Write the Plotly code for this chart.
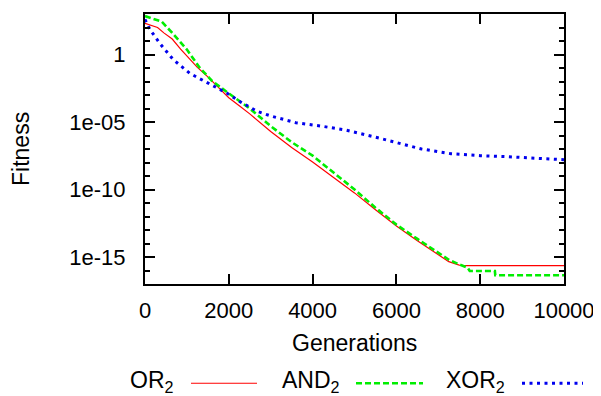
import plotly.graph_objects as go

# Generations / fitness values (fitness on log scale)
or_gen = [0, 150, 300, 450, 650, 850, 1050, 1250, 1500, 1750, 2000, 2250, 2500, 3000,
          3500, 4000, 4500, 5000, 5500, 6000, 6500, 7000, 7250, 7500, 7600, 10000]
or_fit = [2.0e2, 1.4e2, 1.0e2, 4.0e1, 1.4e1, 2.5e0, 5.0e-1, 1.1e-1, 2.2e-2, 4.0e-3, 6.3e-4,
          1.6e-4, 4.0e-5, 2.0e-6, 1.3e-7, 1.1e-8, 7.9e-10, 5.6e-11, 3.2e-12, 2.0e-13,
          1.6e-14, 1.4e-15, 4.5e-16, 2.5e-16, 2.3e-16, 2.3e-16]

and_gen = [0, 150, 400, 650, 1000, 1300, 1600, 2000, 2500, 3000, 3500, 4000,
           4500, 5000, 5500, 6000, 6500, 7000, 7250, 7500, 7700, 7750, 8350, 8360, 10000]
and_fit = [7.0e2, 5.0e2, 2.7e2, 4.0e1, 2.3e0, 1.1e-1, 1.1e-2, 1.3e-3, 1.0e-4, 5.0e-6,
           3.2e-7, 3.2e-8, 1.8e-9, 1.0e-10, 4.5e-12, 2.5e-13, 2.2e-14, 2.0e-15,
           6.3e-16, 2.8e-16, 1.6e-16, 9.3e-17, 9.3e-17, 4.5e-17, 4.5e-17]

xor_gen = [0, 120, 360, 670, 1070, 1480, 1950, 2270, 2670, 3000, 3600, 4200, 4800, 5600,
           6100, 6600, 7300, 8000, 8640, 9300, 10000]
xor_fit = [4.0e2, 7.0e1, 6.3e0, 4.3e-1, 4.0e-2, 7.9e-3, 1.4e-3, 3.2e-4, 6.3e-5, 2.8e-5,
           8.9e-6, 5.0e-6, 2.5e-6, 6.3e-7, 2.5e-7, 1.0e-7, 4.5e-8, 3.2e-8, 2.7e-8, 2.2e-8, 1.6e-8]

x_ticks = [0, 2000, 4000, 6000, 8000, 10000]
x_ticktext = ["0", "2000", "4000", "6000", "8000", "10000"]
y_ticks = [1, 1e-5, 1e-10, 1e-15]
y_ticktext = ["1", "1e-05", "1e-10", "1e-15"]
y_minor = [10.0 ** e for e in range(-17, 4)]

series = [
    ("OR<sub>2</sub>", or_gen, or_fit, "#ff0000", 1.2, "solid"),
    ("AND<sub>2</sub>", and_gen, and_fit, "#00ee00", 2.6, "6px,3px"),
    ("XOR<sub>2</sub>", xor_gen, xor_fit, "#0000ee", 3, "3px,4.5px"),
]

FONT = "Liberation Sans, Arial, sans-serif"
FS = 22
FT = 23
# page has an 8px body margin: the figure is shrunk so that the page matches the reference
OFF = 8
fig = go.Figure()
for name, gx, gy, col, w, dash in series:
    fig.add_trace(go.Scatter(x=gx, y=gy, mode="lines", name=name,
                             line=dict(color=col, width=w, dash=dash),
                             showlegend=False))

# positions below are in page pixels of the reference; plot area 145..564 x 12..284
W = 419.0
H = 272.0
def px(x):
    return (x - 145) / W
def py(y):
    return (284 - y) / H

legend_items = [(176, 191, 257), (342, 356, 423), (507, 522, 583)]
for (name, gx, gy, col, w, dash), (tx, l0, l1) in zip(series, legend_items):
    fig.add_annotation(x=px(tx), y=py(382), xref="paper", yref="paper", text=name,
                       showarrow=False, xanchor="right", yanchor="middle",
                       font=dict(family=FONT, size=FT, color="black"))
    fig.add_shape(type="line", xref="paper", yref="paper", x0=px(l0), x1=px(l1),
                  y0=py(384), y1=py(384), line=dict(color=col, width=w, dash=dash))

fig.add_annotation(x=px(21), y=0.5, xref="paper", yref="paper", text="Fitness",
                   textangle=-90, showarrow=False, xanchor="center", yanchor="middle",
                   font=dict(family=FONT, size=FT, color="black"))
fig.add_annotation(x=0.5, y=py(343), xref="paper", yref="paper", text="Generations",
                   showarrow=False, xanchor="center", yanchor="middle",
                   font=dict(family=FONT, size=FT, color="black"))

fig.update_layout(
    width=601 - OFF, height=396 - OFF,
    margin=dict(l=145 - OFF, r=37, t=12 - OFF, b=112, pad=0),
    paper_bgcolor="white", plot_bgcolor="white",
    font=dict(family=FONT, size=FS, color="black"),
    showlegend=False,
    xaxis=dict(range=[0, 10000], tickmode="array", tickvals=x_ticks, ticktext=x_ticktext,
               ticks="inside", ticklen=10, tickwidth=1.5, tickcolor="black",
               showline=True, linecolor="black", linewidth=2, mirror="ticks",
               showgrid=False, zeroline=False, ticklabelstandoff=6),
    yaxis=dict(type="log", range=[-17, 3], tickmode="array", tickvals=y_ticks,
               ticktext=y_ticktext,
               ticks="inside", ticklen=10, tickwidth=1.5, tickcolor="black",
               showline=True, linecolor="black", linewidth=2, mirror="ticks",
               showgrid=False, zeroline=False, ticklabelstandoff=13,
               minor=dict(tickmode="array", tickvals=y_minor, ticks="inside",
                          ticklen=5, tickwidth=1.5, tickcolor="black", showgrid=False)),
)

fig.write_html("out.html")
